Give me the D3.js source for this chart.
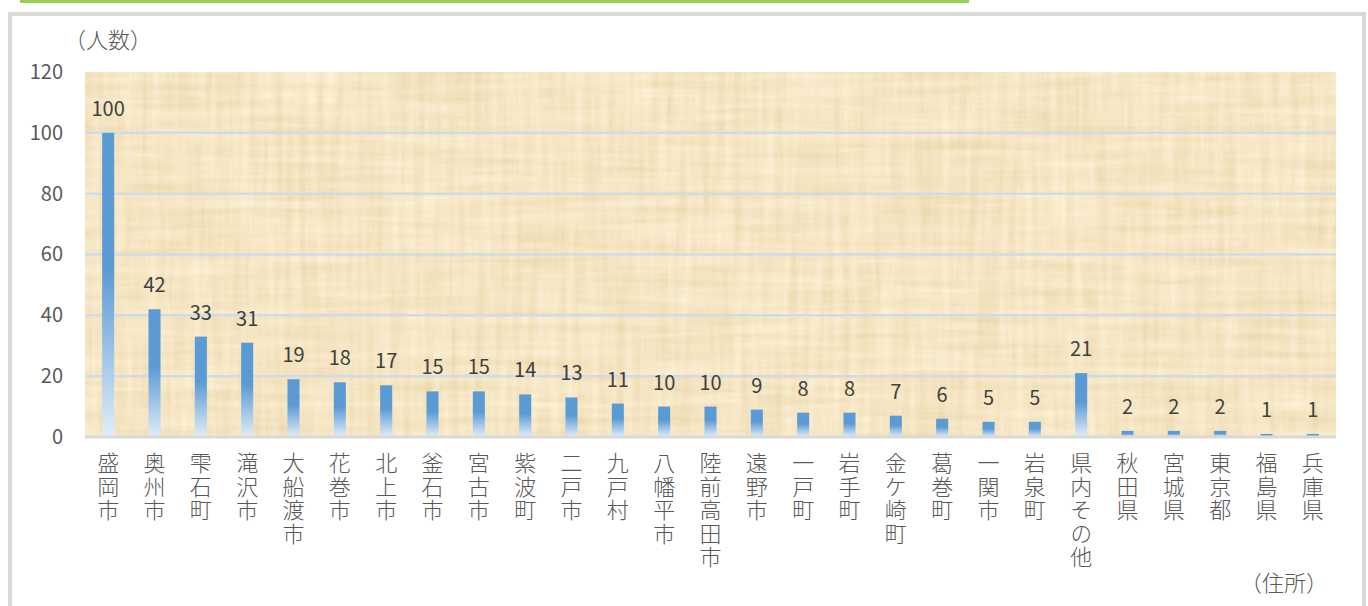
<!DOCTYPE html>
<html>
<head>
<meta charset="utf-8">
<script src="https://cdn.jsdelivr.net/npm/d3@7"></script>
<style>
  html, body { margin: 0; padding: 0; background: #fff; }
  svg { display: block; }
  text { font-family: "Noto Sans CJK JP", "Open Sans", sans-serif; }
</style>
</head>
<body>
<div id="chart"></div>
<script>
(function () {
    const width = 1368;
    const height = 606;

    const categories = ['盛岡市', '奥州市', '雫石町', '滝沢市', '大船渡市', '花巻市', '北上市', '釜石市',
        '宮古市', '紫波町', '二戸市', '九戸村', '八幡平市', '陸前高田市', '遠野市', '一戸町', '岩手町',
        '金ケ崎町', '葛巻町', '一関市', '岩泉町', '県内その他', '秋田県', '宮城県', '東京都', '福島県', '兵庫県'];
    const counts = [100, 42, 33, 31, 19, 18, 17, 15, 15, 14, 13, 11, 10, 10, 9, 8, 8, 7, 6, 5, 5, 21, 2, 2, 2, 1, 1];
    const yTicks = [0, 20, 40, 60, 80, 100, 120];

    const plot = { left: 85, right: 1336, top: 72, bottom: 437 };

    const svg = d3.select('#chart').append('svg')
        .attr('width', width)
        .attr('height', height)
        .attr('viewBox', `0 0 ${width} ${height}`);

    const defs = svg.append('defs');

    // bar gradient: solid blue top half, fading to pale blue at the base
    const grad = defs.append('linearGradient')
        .attr('id', 'barGrad')
        .attr('x1', 0).attr('y1', 0).attr('x2', 0).attr('y2', 1);
    grad.append('stop').attr('offset', '0%').attr('stop-color', '#5b9bd5');
    grad.append('stop').attr('offset', '45%').attr('stop-color', '#5b9bd5');
    grad.append('stop').attr('offset', '100%').attr('stop-color', '#e1edf9');

    // papyrus-like texture for the plot background
    const f = defs.append('filter').attr('id', 'paper')
        .attr('x', 0).attr('y', 0).attr('width', '100%').attr('height', '100%');
    f.append('feTurbulence').attr('type', 'fractalNoise')
        .attr('baseFrequency', '0.12 0.008').attr('numOctaves', 3).attr('seed', 4).attr('result', 'v');
    f.append('feTurbulence').attr('type', 'fractalNoise')
        .attr('baseFrequency', '0.008 0.12').attr('numOctaves', 3).attr('seed', 9).attr('result', 'h');
    f.append('feComposite').attr('in', 'v').attr('in2', 'h')
        .attr('operator', 'arithmetic').attr('k2', 0.5).attr('k3', 0.5).attr('result', 'n');
    f.append('feColorMatrix').attr('in', 'n').attr('type', 'matrix')
        .attr('values', [
            0.30, 0, 0, 0, 0.78,
            0.40, 0, 0, 0, 0.62,
            0.55, 0, 0, 0, 0.33,
            0, 0, 0, 0, 1
        ].join(' '));

    // green rule at the very top
    svg.append('rect')
        .attr('x', 20).attr('y', 0).attr('width', 949).attr('height', 3)
        .attr('fill', '#92d050');

    // outer frame
    svg.append('rect')
        .attr('x', 10).attr('y', 14).attr('width', 1354).attr('height', 620)
        .attr('fill', '#fff')
        .attr('stroke', '#d9d9d9').attr('stroke-width', 4);

    const x = d3.scaleBand()
        .domain(categories)
        .range([plot.left, plot.right])
        .paddingInner(0.74)
        .paddingOuter(0.37);

    const y = d3.scaleLinear()
        .domain([0, 120])
        .range([plot.bottom, plot.top]);

    // plot background
    svg.append('rect')
        .attr('x', plot.left).attr('y', plot.top)
        .attr('width', plot.right - plot.left).attr('height', plot.bottom - plot.top)
        .attr('fill', '#ecd196');
    svg.append('rect')
        .attr('x', plot.left).attr('y', plot.top)
        .attr('width', plot.right - plot.left).attr('height', plot.bottom - plot.top)
        .attr('filter', 'url(#paper)')
        .attr('opacity', 0.85);

    // gridlines
    svg.append('g')
        .selectAll('line')
        .data(yTicks.filter(d => d > 0 && d < 120))
        .join('line')
        .attr('x1', plot.left).attr('x2', plot.right)
        .attr('y1', d => y(d)).attr('y2', d => y(d))
        .attr('stroke', '#cfdbe6').attr('stroke-width', 2.5);

    // y axis labels
    const yAxis = svg.append('g')
        .attr('transform', `translate(${plot.left},0)`)
        .call(d3.axisLeft(y).tickValues(yTicks).tickSize(0).tickPadding(22));
    yAxis.select('.domain').remove();
    yAxis.selectAll('text')
        .attr('font-family', '"Open Sans", "Liberation Sans", sans-serif')
        .attr('font-size', 20)
        .attr('fill', '#595959');

    // bars
    svg.append('g')
        .selectAll('rect')
        .data(counts)
        .join('rect')
        .attr('x', (d, i) => x(categories[i]))
        .attr('y', d => y(d))
        .attr('width', x.bandwidth())
        .attr('height', d => y(0) - y(d))
        .attr('fill', 'url(#barGrad)');

    // baseline
    svg.append('line')
        .attr('x1', plot.left).attr('x2', plot.right)
        .attr('y1', plot.bottom).attr('y2', plot.bottom)
        .attr('stroke', '#d9d9d9').attr('stroke-width', 3);

    // value labels
    svg.append('g')
        .selectAll('text')
        .data(counts)
        .join('text')
        .attr('x', (d, i) => x(categories[i]) + x.bandwidth() / 2)
        .attr('y', d => y(d) - 17)
        .attr('text-anchor', 'middle')
        .attr('font-family', '"Open Sans", "Liberation Sans", sans-serif')
        .attr('font-size', 20)
        .attr('fill', '#404040')
        .text(d => d);

    // vertical category labels
    svg.append('g')
        .selectAll('text')
        .data(categories)
        .join('text')
        .attr('x', d => x(d) + x.bandwidth() / 2)
        .attr('y', 452)
        .style('writing-mode', 'vertical-rl')
        .style('text-orientation', 'upright')
        .style('letter-spacing', '1.5px')
        .attr('font-size', 22)
        .attr('font-weight', 300)
        .attr('fill', '#595959')
        .text(d => d);

    // axis titles
    svg.append('text')
        .attr('x', 64).attr('y', 48)
        .attr('font-size', 22)
        .attr('font-weight', 300)
        .attr('fill', '#595959')
        .text('（人数）');

    svg.append('text')
        .attr('x', 1328).attr('y', 591)
        .attr('text-anchor', 'end')
        .attr('font-size', 22)
        .attr('font-weight', 300)
        .attr('fill', '#595959')
        .text('（住所）');
})();
</script>
</body>
</html>
